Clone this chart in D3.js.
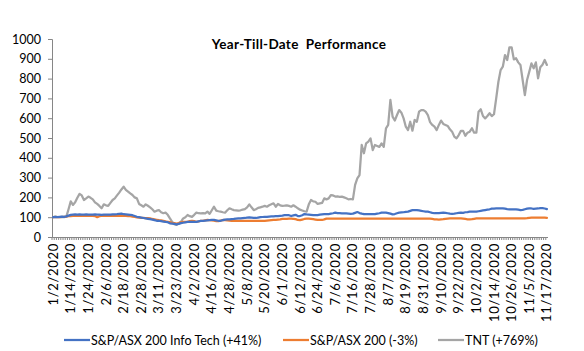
<!DOCTYPE html>
<html>
<head>
<meta charset="utf-8">
<script src="https://cdn.jsdelivr.net/npm/d3@7"></script>
<style>
  html, body { margin: 0; padding: 0; background: #fff; }
  svg { display: block; }
  text { font-family: Lato, "Open Sans", sans-serif; fill: #000; }
</style>
</head>
<body>
<svg id="chart" width="584" height="351"></svg>
<script>
// ---- DATA ----
const dates = [
"1/2/2020","1/3/2020","1/6/2020","1/7/2020","1/8/2020","1/9/2020","1/10/2020","1/13/2020","1/14/2020","1/15/2020","1/16/2020","1/17/2020","1/20/2020","1/21/2020","1/22/2020","1/23/2020","1/24/2020","1/28/2020","1/29/2020","1/30/2020","1/31/2020",
"2/3/2020","2/4/2020","2/5/2020","2/6/2020","2/7/2020","2/10/2020","2/11/2020","2/12/2020","2/13/2020","2/14/2020","2/17/2020","2/18/2020","2/19/2020","2/20/2020","2/21/2020","2/24/2020","2/25/2020","2/26/2020","2/27/2020","2/28/2020",
"3/2/2020","3/3/2020","3/4/2020","3/5/2020","3/6/2020","3/9/2020","3/10/2020","3/11/2020","3/12/2020","3/13/2020","3/16/2020","3/17/2020","3/18/2020","3/19/2020","3/20/2020","3/23/2020","3/24/2020","3/25/2020","3/26/2020","3/27/2020","3/30/2020","3/31/2020",
"4/1/2020","4/2/2020","4/3/2020","4/6/2020","4/7/2020","4/8/2020","4/9/2020","4/14/2020","4/15/2020","4/16/2020","4/17/2020","4/20/2020","4/21/2020","4/22/2020","4/23/2020","4/24/2020","4/27/2020","4/28/2020","4/29/2020","4/30/2020",
"5/1/2020","5/4/2020","5/5/2020","5/6/2020","5/7/2020","5/8/2020","5/11/2020","5/12/2020","5/13/2020","5/14/2020","5/15/2020","5/18/2020","5/19/2020","5/20/2020","5/21/2020","5/22/2020","5/25/2020","5/26/2020","5/27/2020","5/28/2020","5/29/2020",
"6/1/2020","6/2/2020","6/3/2020","6/4/2020","6/5/2020","6/9/2020","6/10/2020","6/11/2020","6/12/2020","6/15/2020","6/16/2020","6/17/2020","6/18/2020","6/19/2020","6/22/2020","6/23/2020","6/24/2020","6/25/2020","6/26/2020","6/29/2020","6/30/2020",
"7/1/2020","7/2/2020","7/3/2020","7/6/2020","7/7/2020","7/8/2020","7/9/2020","7/10/2020","7/13/2020","7/14/2020","7/15/2020","7/16/2020","7/17/2020","7/20/2020","7/21/2020","7/22/2020","7/23/2020","7/24/2020","7/27/2020","7/28/2020","7/29/2020","7/30/2020","7/31/2020",
"8/3/2020","8/4/2020","8/5/2020","8/6/2020","8/7/2020","8/10/2020","8/11/2020","8/12/2020","8/13/2020","8/14/2020","8/17/2020","8/18/2020","8/19/2020","8/20/2020","8/21/2020","8/24/2020","8/25/2020","8/26/2020","8/27/2020","8/28/2020","8/31/2020",
"9/1/2020","9/2/2020","9/3/2020","9/4/2020","9/7/2020","9/8/2020","9/9/2020","9/10/2020","9/11/2020","9/14/2020","9/15/2020","9/16/2020","9/17/2020","9/18/2020","9/21/2020","9/22/2020","9/23/2020","9/24/2020","9/25/2020","9/28/2020","9/29/2020","9/30/2020",
"10/1/2020","10/2/2020","10/5/2020","10/6/2020","10/7/2020","10/8/2020","10/9/2020","10/12/2020","10/13/2020","10/14/2020","10/15/2020","10/16/2020","10/19/2020","10/20/2020","10/21/2020","10/22/2020","10/23/2020","10/26/2020","10/27/2020","10/28/2020","10/29/2020","10/30/2020",
"11/2/2020","11/3/2020","11/4/2020","11/5/2020","11/6/2020","11/9/2020","11/10/2020","11/11/2020","11/12/2020","11/13/2020","11/16/2020","11/17/2020"
];

const xTickLabels = ["1/2/2020","1/14/2020","1/24/2020","2/6/2020","2/18/2020","2/28/2020","3/11/2020","3/23/2020","4/2/2020","4/16/2020","4/28/2020","5/8/2020","5/20/2020","6/1/2020","6/12/2020","6/24/2020","7/6/2020","7/16/2020","7/28/2020","8/7/2020","8/19/2020","8/31/2020","9/10/2020","9/22/2020","10/2/2020","10/14/2020","10/26/2020","11/5/2020","11/17/2020"];

const yTicks = [0,100,200,300,400,500,600,700,800,900,1000];

const seriesNames = ["S&P/ASX 200 Info Tech (+41%)", "S&P/ASX 200 (-3%)", "TNT (+769%)"];

const infoTech = [
100,101,100,102,103,102,104,108,112,113,114,113,114,113,113,114,113,113,113,114,
113,113,112,113,113,113,113,114,114,115,117,118,115,114,113,112,110,106,102,100,
98,96,94,92,90,88,85,82,82,80,78,76,75,69,68,66,64,66,70,72,
74,76,77,77,76,76,79,81,82,83,84,85,86,86,84,82,82,85,88,89,
89,90,91,93,94,94,95,96,98,99,98,97,96,98,100,101,102,102,103,104,
104,105,106,107,108,110,111,110,106,109,112,106,106,110,116,114,113,112,111,111,
111,113,114,115,116,116,118,120,123,121,120,119,119,119,118,117,118,122,126,121,
118,116,116,116,116,116,116,118,120,123,123,123,121,118,114,116,120,123,124,125,
127,128,132,136,136,136,134,132,130,128,128,125,122,120,120,121,122,123,122,120,
118,117,118,120,122,123,122,125,126,128,128,128,128,130,132,134,136,138,140,143,
143,144,145,145,145,143,141,140,139,140,140,138,136,137,140,143,145,144,142,143,
144,146,146,144,141
];

const asx200 = [
100,100,101,100,101,102,103,105,106,107,107,107,107,107,107,107,107,107,107,106,
100,105,107,107,107,107,107,107,107,107,107,107,107,107,106,105,103,101,99,98,
97,96,95,95,94,91,89,87,85,84,82,79,77,75,72,70,68,70,74,76,
77,77,80,82,80,77,79,82,82,84,86,85,84,82,80,80,83,86,85,84,
83,82,82,82,82,82,82,82,82,82,82,82,82,82,82,82,82,83,84,85,
86,87,88,89,91,91,92,93,93,92,90,86,85,88,91,93,93,92,90,88,
86,86,86,89,93,93,93,93,93,93,93,93,93,93,93,93,93,93,93,93,
93,93,93,93,93,93,93,93,93,93,93,93,93,93,93,93,93,93,93,93,
93,93,93,93,93,93,93,93,93,93,93,93,91,89,89,88,89,90,92,93,
94,94,94,94,94,94,93,91,89,89,90,92,94,94,94,94,94,94,94,94,
94,94,94,94,94,94,94,94,94,94,94,94,94,94,94,95,97,98,98,98,
98,98,98,98,97
];

const tnt = [
100,104,101,100,102,100,103,140,180,162,175,198,218,210,187,195,204,198,190,175,
167,157,145,165,160,157,172,187,195,210,224,240,254,238,229,220,212,200,195,167,
160,153,165,158,150,140,128,133,136,125,120,123,112,94,77,65,61,70,77,94,
100,111,105,102,112,123,120,119,120,119,128,117,135,153,133,130,128,125,123,135,
145,140,136,135,133,135,138,141,150,165,150,136,140,147,150,153,157,153,160,165,
170,153,167,160,157,158,160,157,153,160,153,145,138,134,130,128,165,187,180,178,
167,170,172,195,190,195,212,210,204,205,203,204,200,196,190,192,190,263,296,313,
465,423,473,482,498,439,465,460,455,473,455,549,566,692,608,588,616,641,628,599,
557,540,582,537,591,582,633,641,641,633,616,580,566,557,540,566,588,571,566,561,
544,532,507,498,515,536,536,511,527,532,549,527,527,633,645,611,599,611,625,611,
620,700,784,843,860,919,894,958,958,897,903,882,869,793,717,793,835,877,852,882,
801,857,870,894,869
];

const colors = ["#4472C4", "#ED7D31", "#A5A5A5"];

// ---- CHART ----
const svg = d3.select("#chart");
const mLeft = 52, mRight = 548, mTop = 39, mBottom = 237;

const x = d3.scaleBand().domain(dates).range([mLeft, mRight]).padding(0);
const y = d3.scaleLinear().domain([0, 1000]).range([mBottom, mTop]);
const cx = d => x(d) + x.bandwidth() / 2;

// title
svg.append("text")
  .attr("x", 299).attr("y", 49)
  .attr("text-anchor", "middle")
  .style("font-weight", "bold")
  .style("font-size", "13.5px")
  .style("letter-spacing", "0.3px")
  .style("white-space", "pre")
  .text("Year-Till-Date  Performance");

// y axis
const yAxis = svg.append("g")
  .attr("transform", `translate(${mLeft},0)`)
  .call(d3.axisLeft(y).tickValues(yTicks).tickSize(4).tickPadding(7).tickFormat(d3.format("d")));
yAxis.select(".domain").attr("stroke", "#868686");
yAxis.selectAll(".tick line").attr("stroke", "#868686");
yAxis.selectAll(".tick text").style("font-size", "12.5px").style("font-family", "Lato, sans-serif").attr("fill", "#000");

// x axis minor ticks at category boundaries
const xMinor = svg.append("g")
  .attr("transform", `translate(${-x.bandwidth()/2},${mBottom})`)
  .call(d3.axisBottom(x).tickValues(dates).tickSize(3).tickFormat(""));
xMinor.select(".domain").remove();
xMinor.selectAll(".tick line").attr("stroke", "#868686");

// x axis labels
const xAxis = svg.append("g")
  .attr("transform", `translate(0,${mBottom})`)
  .call(d3.axisBottom(x).tickValues(xTickLabels).tickSize(0).tickSizeOuter(0));
xAxis.select(".domain").attr("stroke", "#868686").attr("d", `M${mLeft},0.5H${mRight}`);
xAxis.selectAll(".tick text")
  .style("font-size", "13px").style("font-family", "Lato, sans-serif")
  .style("letter-spacing", "0.7px").attr("fill", "#000")
  .attr("text-anchor", "end")
  .attr("transform", "rotate(-90)")
  .attr("x", -6).attr("y", 0).attr("dy", "0.35em");

// lines
const allSeries = [infoTech, asx200, tnt];
const line = d3.line().x((v, i) => cx(dates[i])).y(v => y(v));
[2, 1, 0].forEach(k => {
  svg.append("path")
    .datum(allSeries[k])
    .attr("fill", "none")
    .attr("stroke", colors[k])
    .attr("stroke-width", 2.25)
    .attr("stroke-linejoin", "round")
    .attr("stroke-linecap", "round")
    .attr("d", line);
});

// legend
const legendX = [64, 283, 438];
const legend = svg.append("g");
seriesNames.forEach((name, k) => {
  legend.append("line")
    .attr("x1", legendX[k]).attr("x2", legendX[k] + 26)
    .attr("y1", 340).attr("y2", 340)
    .attr("stroke", colors[k]).attr("stroke-width", 2.25);
  legend.append("text")
    .attr("x", legendX[k] + 27).attr("y", 344.5)
    .style("font-size", "12.5px").style("font-family", "Lato, sans-serif")
    .text(name);
});
</script>
</body>
</html>
